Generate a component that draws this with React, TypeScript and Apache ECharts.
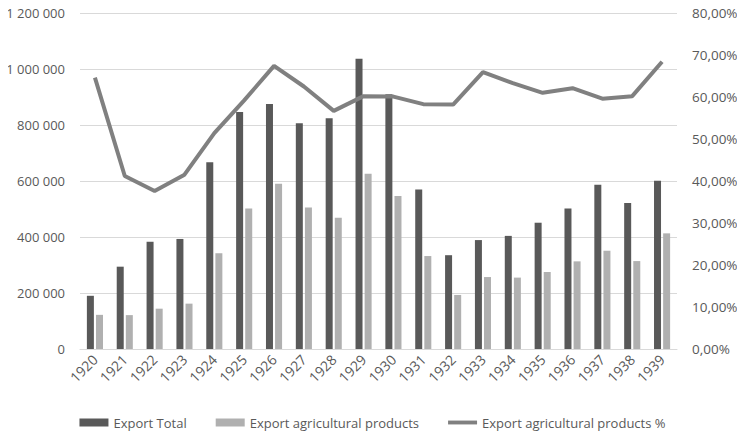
import React, { useEffect, useRef } from "react";
import * as echarts from "echarts";

const years = ["1920","1921","1922","1923","1924","1925","1926","1927","1928","1929","1930","1931","1932","1933","1934","1935","1936","1937","1938","1939"];
const exportTotal = [190000,294000,383000,393000,667000,846000,875000,806000,824000,1037000,910000,570000,335000,389000,404000,451000,502000,587000,521000,601000];
const exportAgri = [122000,121000,144000,162000,342000,502000,590000,505000,469000,626000,546000,332000,193000,257000,255000,275000,313000,351000,314000,413000];
const exportAgriPct = [64.6,41.2,37.6,41.5,51.4,59.2,67.4,62.5,56.7,60.2,60.1,58.3,58.2,65.9,63.3,61.0,62.1,59.6,60.2,68.4];

const FONT = "'Open Sans', 'Noto Sans', sans-serif";
const TXT = "#595959";

export default function App() {
  const ref = useRef<HTMLDivElement>(null);
  useEffect(() => {
    const chart = echarts.init(ref.current!, null, { renderer: "svg" });
    chart.setOption({
      animation: false,
      textStyle: { fontFamily: FONT },
      grid: { left: 80, right: 68, top: 13, bottom: 95, containLabel: false, outerBoundsMode: "none" },
      legend: {
        top: 411,
        left: "center",
        itemGap: 29,
        itemWidth: 29,
        itemHeight: 8,
        textStyle: { color: TXT, fontSize: 13, fontFamily: FONT },
        data: [
          { name: "Export Total", icon: "rect" },
          { name: "Export agricultural products", icon: "rect" },
          { name: "Export agricultural products %", icon: "path://M0,0H30V4H0Z" },
        ],
      },
      xAxis: {
        type: "category",
        data: years,
        axisLine: { lineStyle: { color: "#d9d9d9" } },
        axisTick: { show: false },
        axisLabel: { rotate: 45, color: TXT, fontSize: 14, margin: 8, interval: 0 },
      },
      yAxis: [
        {
          type: "value",
          min: 0,
          max: 1200000,
          interval: 200000,
          axisLine: { show: false },
          axisTick: { show: false },
          splitLine: { lineStyle: { color: "#d9d9d9" } },
          axisLabel: {
            color: TXT,
            fontSize: 13,
            margin: 15,
            formatter: (v: number) => String(v).replace(/\B(?=(\d{3})+(?!\d))/g, " "),
          },
        },
        {
          type: "value",
          min: 0,
          max: 80,
          interval: 10,
          position: "right",
          axisLine: { show: false },
          axisTick: { show: false },
          splitLine: { show: false },
          axisLabel: {
            color: TXT,
            fontSize: 13.5,
            margin: 15,
            align: "left",
            formatter: (v: number) => v.toFixed(2).replace(".", ",") + "%",
          },
        },
      ],
      series: [
        {
          name: "Export Total",
          type: "bar",
          data: exportTotal,
          barWidth: 7,
          barGap: "30%",
          itemStyle: { color: "#595959" },
        },
        {
          name: "Export agricultural products",
          type: "bar",
          data: exportAgri,
          barWidth: 7,
          barGap: "30%",
          itemStyle: { color: "#b0b0b0" },
        },
        {
          name: "Export agricultural products %",
          type: "line",
          yAxisIndex: 1,
          data: exportAgriPct,
          symbol: "none",
          lineStyle: { color: "#808080", width: 4 },
          itemStyle: { color: "#808080" },
        },
      ],
    });
    return () => chart.dispose();
  }, []);
  return <div ref={ref} style={{ width: 745, height: 444, margin: -8 }} />;
}
